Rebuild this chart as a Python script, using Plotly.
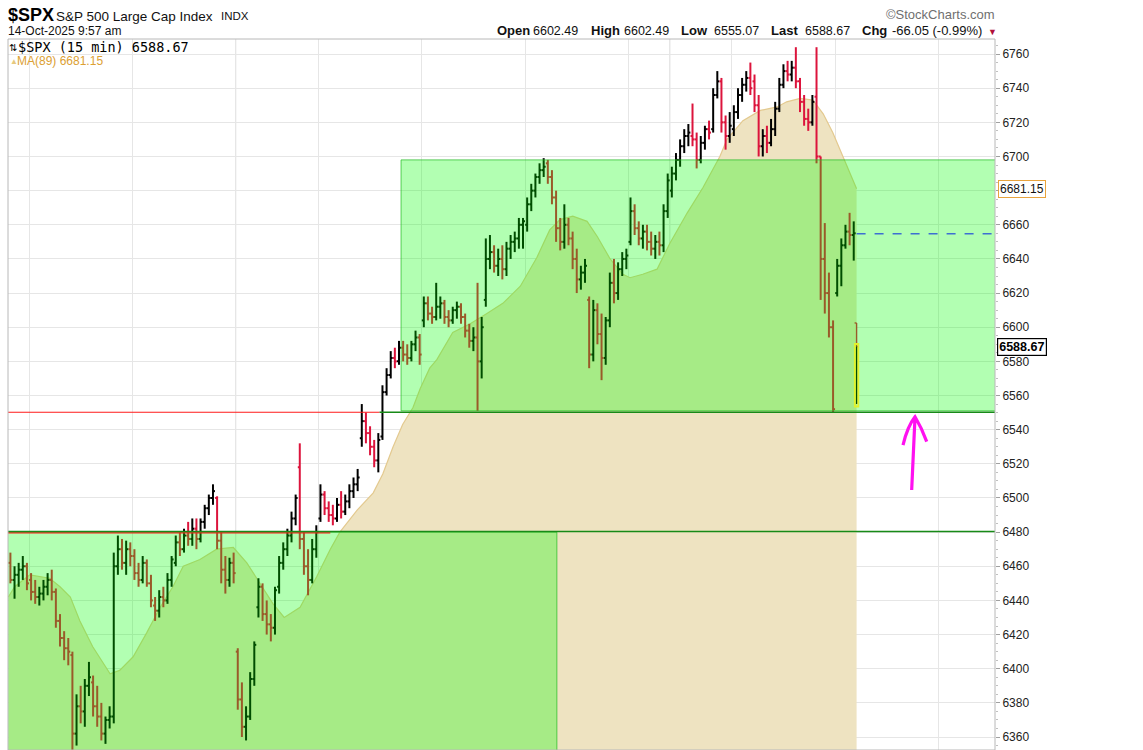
import plotly.graph_objects as go

# ---------------------------------------------------------------- data
SLOTS_PER_DAY = 26      # 15-minute slots per session (x axis unit = one 15-min slot)
BARS_PER_DAY = 5        # bars read per session from the reference

# sessions 15-Aug-2025 ... 13-Oct-2025, 5 bars each
opens = [
    6462, 6452, 6455, 6458, 6460,  6452, 6445, 6442, 6444, 6448,  6452, 6445, 6428, 6418, 6412,
    6408, 6362, 6378, 6375, 6390,  6392, 6378, 6372, 6362, 6370,  6372, 6460, 6470, 6462, 6470,
    6466, 6456, 6452, 6462, 6450,  6437, 6434, 6442, 6440, 6452,  6462, 6474, 6470, 6478, 6476,
    6482, 6476, 6486, 6494, 6500,  6500, 6475, 6458, 6452, 6462,  6410, 6382, 6366, 6372, 6394,
    6436, 6448, 6432, 6426, 6424,  6448, 6462, 6470, 6478, 6488,  6518, 6476, 6460, 6452, 6470,
    6488, 6502, 6494, 6490, 6488,  6496, 6492, 6498, 6504, 6508,  6535, 6545, 6538, 6530, 6522,
    6536, 6562, 6572, 6582, 6580,  6588, 6584, 6582, 6590, 6594,  6604, 6614, 6608, 6606, 6612,
    6614, 6606, 6604, 6610, 6612,  6606, 6598, 6592, 6594, 6580,  6616, 6640, 6644, 6636, 6640,
    6634, 6646, 6650, 6652, 6660,  6660, 6672, 6680, 6688, 6692,  6696, 6688, 6676, 6658, 6650,
    6660, 6652, 6640, 6628, 6632,  6616, 6584, 6610, 6596, 6582,  6604, 6626, 6620, 6634, 6640,
    6650, 6668, 6658, 6652, 6656,  6650, 6646, 6650, 6648, 6668,  6680, 6690, 6698, 6706, 6712,
    6712, 6710, 6698, 6708, 6716,  6716, 6736, 6744, 6720, 6712,  6716, 6726, 6736, 6742, 6746,
    6744, 6730, 6706, 6712, 6708,  6716, 6728, 6742, 6750, 6748,  6752, 6744, 6732, 6722, 6720,
    6735, 6700, 6640, 6620, 6600,  6620, 6636, 6648, 6656, 6654,
]
highs = [
    6468, 6460, 6462, 6466, 6462,  6456, 6452, 6448, 6452, 6456,  6458, 6447, 6432, 6422, 6418,
    6410, 6385, 6390, 6394, 6404,  6396, 6390, 6380, 6372, 6378,  6468, 6478, 6476, 6475, 6474,
    6470, 6462, 6466, 6464, 6455,  6442, 6446, 6448, 6456, 6466,  6478, 6480, 6482, 6486, 6488,
    6488, 6488, 6496, 6502, 6508,  6501, 6480, 6466, 6465, 6468,  6412, 6392, 6378, 6398, 6416,
    6453, 6450, 6440, 6432, 6448,  6466, 6474, 6482, 6492, 6502,  6532, 6480, 6470, 6476, 6484,
    6508, 6504, 6498, 6496, 6500,  6504, 6502, 6508, 6512, 6517,  6555, 6550, 6542, 6534, 6538,
    6566, 6576, 6586, 6588, 6592,  6592, 6590, 6592, 6598, 6596,  6618, 6618, 6612, 6626, 6618,
    6616, 6610, 6612, 6615, 6614,  6608, 6602, 6600, 6626, 6606,  6652, 6654, 6648, 6646, 6648,
    6650, 6654, 6656, 6664, 6664,  6676, 6684, 6690, 6696, 6699,  6698, 6692, 6680, 6664, 6672,
    6664, 6656, 6646, 6636, 6640,  6618, 6616, 6614, 6608, 6606,  6632, 6640, 6638, 6644, 6646,
    6676, 6672, 6662, 6660, 6660,  6656, 6654, 6656, 6672, 6690,  6694, 6702, 6710, 6716, 6719,
    6731, 6714, 6712, 6718, 6721,  6740, 6750, 6746, 6724, 6726,  6730, 6740, 6746, 6750, 6755,
    6748, 6736, 6716, 6718, 6722,  6732, 6746, 6754, 6756, 6756,  6764, 6746, 6736, 6728, 6736,
    6764, 6700, 6661, 6632, 6604,  6640, 6652, 6660, 6667, 6662,
]
lows = [
    6450, 6441, 6448, 6452, 6446,  6440, 6438, 6437, 6440, 6443,  6440, 6424, 6413, 6405, 6402,
    6345, 6355, 6368, 6366, 6384,  6372, 6366, 6358, 6356, 6365,  6368, 6455, 6458, 6455, 6460,
    6452, 6448, 6450, 6448, 6436,  6428, 6430, 6436, 6438, 6448,  6460, 6466, 6468, 6472, 6472,
    6470, 6474, 6482, 6490, 6496,  6470, 6450, 6444, 6448, 6450,  6376, 6360, 6358, 6370, 6390,
    6430, 6428, 6420, 6416, 6420,  6444, 6458, 6466, 6474, 6484,  6470, 6455, 6443, 6450, 6465,
    6486, 6490, 6486, 6484, 6486,  6488, 6490, 6494, 6500, 6504,  6530, 6532, 6525, 6518, 6515,
    6534, 6560, 6570, 6576, 6578,  6580, 6578, 6580, 6586, 6578,  6600, 6604, 6602, 6604, 6605,
    6602, 6600, 6602, 6605, 6602,  6594, 6588, 6586, 6551, 6570,  6612, 6634, 6632, 6630, 6628,
    6630, 6640, 6644, 6646, 6646,  6656, 6668, 6676, 6684, 6688,  6684, 6672, 6650, 6645, 6646,
    6648, 6634, 6620, 6622, 6626,  6576, 6580, 6590, 6569, 6578,  6600, 6614, 6616, 6630, 6634,
    6648, 6654, 6648, 6646, 6645,  6642, 6640, 6642, 6644, 6664,  6676, 6686, 6694, 6702, 6706,
    6706, 6693, 6696, 6704, 6710,  6714, 6734, 6714, 6704, 6708,  6712, 6722, 6732, 6738, 6736,
    6726, 6700, 6700, 6702, 6706,  6712, 6726, 6740, 6744, 6744,  6740, 6726, 6718, 6715, 6718,
    6696, 6616, 6608, 6594, 6550,  6618, 6624, 6646, 6648, 6639,
]
closes = [
    6452, 6455, 6458, 6460, 6450,  6445, 6442, 6444, 6448, 6452,  6445, 6428, 6418, 6412, 6410,
    6362, 6378, 6375, 6390, 6395,  6378, 6372, 6362, 6370, 6372,  6460, 6470, 6462, 6470, 6466,
    6456, 6452, 6462, 6450, 6440,  6434, 6442, 6440, 6452, 6464,  6474, 6470, 6478, 6476, 6482,
    6476, 6486, 6494, 6500, 6504,  6475, 6458, 6452, 6462, 6456,  6382, 6366, 6372, 6394, 6414,
    6448, 6432, 6426, 6424, 6446,  6462, 6470, 6478, 6488, 6500,  6476, 6460, 6452, 6470, 6480,
    6502, 6494, 6490, 6488, 6496,  6492, 6498, 6504, 6508, 6512,  6545, 6538, 6530, 6522, 6534,
    6562, 6572, 6582, 6580, 6588,  6584, 6582, 6590, 6594, 6584,  6614, 6608, 6606, 6612, 6614,
    6606, 6604, 6610, 6612, 6606,  6598, 6592, 6594, 6580, 6600,  6640, 6644, 6636, 6640, 6634,
    6646, 6650, 6652, 6660, 6662,  6672, 6680, 6688, 6692, 6694,  6688, 6676, 6658, 6650, 6660,
    6652, 6640, 6628, 6632, 6636,  6584, 6610, 6596, 6582, 6604,  6626, 6620, 6634, 6640, 6642,
    6668, 6658, 6652, 6656, 6650,  6646, 6650, 6648, 6668, 6686,  6690, 6698, 6706, 6712, 6714,
    6710, 6698, 6708, 6716, 6714,  6736, 6744, 6720, 6712, 6718,  6726, 6736, 6742, 6746, 6740,
    6730, 6706, 6712, 6708, 6716,  6728, 6742, 6750, 6748, 6752,  6744, 6732, 6722, 6720, 6732,
    6700, 6640, 6620, 6600, 6552,  6636, 6648, 6656, 6654, 6655,
]

# current bar, 14-Oct-2025 9:57 am
last_slot = 1067
last_open, last_high, last_low, last_close = 6602.49, 6602.49, 6555.07, 6588.67
prev_close = 6654.72
change, change_pct = -66.05, -0.99

# MA(89) (slot index -> value)
ma_slots = [0, 8, 27, 52, 65, 78, 90, 106, 128, 140, 157, 174, 191, 207, 220, 241, 262, 283, 300, 317,
            333, 347, 367, 388, 405, 417, 439, 459, 471, 484, 496, 509, 518, 530, 539, 559, 581, 602, 622, 644,
            665, 681, 694, 710, 728, 741, 757, 773, 782, 798, 816, 832, 854, 874, 895, 904, 924, 946, 967, 979,
            996, 1012, 1025, 1037, 1050, 1062, 1067]
ma_vals = [6442, 6448, 6455, 6453, 6448, 6442, 6428, 6413, 6397, 6399, 6407, 6421, 6436, 6448, 6460, 6464, 6470, 6471, 6462, 6450,
           6438, 6430, 6436, 6454, 6470, 6480, 6493, 6503, 6514, 6530, 6543, 6553, 6564, 6576, 6581, 6597, 6602, 6608, 6614, 6624,
           6641, 6657, 6663, 6665, 6662, 6653, 6640, 6631, 6629, 6631, 6634, 6649, 6667, 6682, 6700, 6710, 6721, 6727, 6729, 6732,
           6734, 6733, 6725, 6714, 6700, 6686, 6681.15]
ma_last = 6681.15

# week / month starts (vertical grid), slot index
week_slots = [26, 156, 286, 390, 520, 650, 780, 832, 910, 1040, 1170]
month_slots = [286, 832]
price_ticks = list(range(6360, 6761, 20))
hidden_tick = 6680      # covered by the MA value tag

# annotation zones drawn by the chartist
upper_zone = dict(x0=494, x1=1260, y0=6551, y1=6698)
lower_zone = dict(x0=-10, x1=690, y0=6300, y1=6480)
red_level_a, red_level_a_end, green_level_a_start = 6550.2, 467, 467
red_level_b, red_level_b_end, green_level_b = 6479.6, 405, 6480.4

X_RANGE = [-0.42, 1241.1]
Y_RANGE = [6352.4, 6768.8]

# ---------------------------------------------------------------- figure
W, H = 1143, 750
L, R, T, B = 8, 148, 39, 0
PW, PH = W - L - R, H - T - B


def PX(x):
    return (x - L) / PW


def PY(y):
    return (H - B - y) / PH


SANS = "Liberation Sans, Arial, sans-serif"
MONO = "DejaVu Sans Mono, monospace"
RED = "#dc143c"
TICK = 2.5          # half-width of the open/close ticks, in slots

x_bars = [SLOTS_PER_DAY * (i // BARS_PER_DAY) + (i % BARS_PER_DAY + 0.5) * SLOTS_PER_DAY / BARS_PER_DAY
          for i in range(len(closes))]


def ohlc_segments(xs, os_, hs, ls, cs):
    """Build OHLC bar glyphs (range line + open tick left + close tick right) as line segments."""
    px, py = [], []
    for x, o, h, l, c in zip(xs, os_, hs, ls, cs):
        px += [x, x, None, x - TICK, x, None, x, x + TICK, None]
        py += [l, h, None, o, o, None, c, c, None]
    return px, py


up = [i for i in range(len(closes)) if closes[i] >= opens[i]]
dn = [i for i in range(len(closes)) if closes[i] < opens[i]]

fig = go.Figure()

# MA(89) area
fig.add_trace(go.Scatter(
    x=ma_slots, y=ma_vals, mode="lines", fill="tozeroy",
    line=dict(color="#e3c98f", width=1.2), fillcolor="#eee3c1",
    hoverinfo="skip", showlegend=False))

# price bars (up = black, down = red)
for idx, col in ((up, "#000000"), (dn, RED)):
    sx, sy = ohlc_segments([x_bars[i] for i in idx], [opens[i] for i in idx], [highs[i] for i in idx],
                           [lows[i] for i in idx], [closes[i] for i in idx])
    fig.add_trace(go.Scatter(x=sx, y=sy, mode="lines", line=dict(color=col, width=2.0),
                             connectgaps=False, hoverinfo="skip", showlegend=False))

# current bar
sx, sy = ohlc_segments([last_slot], [last_open], [last_high], [last_low], [last_close])
fig.add_trace(go.Scatter(x=sx, y=sy, mode="lines", line=dict(color=RED, width=1.4),
                         hoverinfo="skip", showlegend=False))
fig.add_trace(go.Scatter(
    x=[last_slot, last_slot], y=[last_low, last_close], mode="lines",
    line=dict(color="#000000", width=1.5), showlegend=False, hoverinfo="skip"))

shapes = []
# month grid lines (a bit darker)
for s in month_slots:
    shapes.append(dict(type="line", xref="x", yref="paper", x0=s, x1=s, y0=0, y1=1,
                       line=dict(color="#d2d2d2", width=1), layer="below"))

# green zones (translucent, drawn over the bars)
shapes.append(dict(type="rect", xref="x", yref="y", **lower_zone,
                   fillcolor="rgba(0,255,0,0.30)", line=dict(color="rgba(40,190,40,0.75)", width=1),
                   layer="above"))
shapes.append(dict(type="rect", xref="x", yref="y", **upper_zone,
                   fillcolor="rgba(0,255,0,0.30)", line=dict(color="rgba(40,190,40,0.75)", width=1),
                   layer="above"))

# horizontal levels
shapes.append(dict(type="line", xref="x", yref="y", x0=X_RANGE[0], x1=red_level_a_end,
                   y0=red_level_a, y1=red_level_a, line=dict(color="#ff1a1a", width=1.2), layer="above"))
shapes.append(dict(type="line", xref="x", yref="y", x0=green_level_a_start, x1=X_RANGE[1],
                   y0=red_level_a, y1=red_level_a, line=dict(color="#178a17", width=1.4), layer="above"))
shapes.append(dict(type="line", xref="x", yref="y", x0=X_RANGE[0], x1=red_level_b_end,
                   y0=red_level_b, y1=red_level_b, line=dict(color="#ff1a1a", width=1.2), layer="above"))
shapes.append(dict(type="line", xref="x", yref="y", x0=X_RANGE[0], x1=X_RANGE[1],
                   y0=green_level_b, y1=green_level_b, line=dict(color="#178a17", width=1.4), layer="above"))

# previous close (dashed)
shapes.append(dict(type="line", xref="x", yref="y", x0=last_slot, x1=X_RANGE[1],
                   y0=prev_close, y1=prev_close, line=dict(color="#3d6fd1", width=1.4, dash="dash"),
                   layer="above"))

# highlight of the current bar
shapes.append(dict(type="rect", xref="x", yref="y", x0=last_slot - 2.2, x1=last_slot + 2.2,
                   y0=last_low - 1.5, y1=last_close + 1.5,
                   line=dict(color="#e2f22a", width=1.8), fillcolor="rgba(0,0,0,0)", layer="above"))

# hand-drawn magenta arrow
shapes.append(dict(type="path", xref="x", yref="y",
                   path="M 1136.3,6504.7 L 1140.5,6547.6 "
                        "M 1125.4,6531 Q 1131,6542 1140.5,6547.6 Q 1149,6541 1155.2,6533",
                   line=dict(color="#ff10f0", width=3.2), layer="above"))

# plot frame
shapes.append(dict(type="rect", xref="paper", yref="paper", x0=0, x1=1, y0=0, y1=1,
                   line=dict(color="#b8b8b8", width=1), layer="above"))

ann = []


def note(text, x, y, size=12, color="#111111", family=SANS, xanchor="left", yref="paper", **kw):
    ann.append(dict(text=text, x=PX(x), y=(PY(y) if yref == "paper" else y), xref="paper", yref=yref,
                    xanchor=xanchor, yanchor="middle", showarrow=False,
                    font=dict(family=family, size=size, color=color), **kw))


# header
note("<b>$SPX</b>", 6, 15, size=18, color="#000000")
note("S&P 500 Large Cap Index", 54, 16, size=13.5)
note("INDX", 219, 16, size=11.5)
note("14-Oct-2025 9:57 am", 6, 31, size=12)
note("\u00a9StockCharts.com", 997, 15, size=13, color="#6f6f6f", xanchor="right")
note("<b>Open</b>", 495, 31, size=13)
note(f"{last_open:.2f}", 531, 31, size=12.5)
note("<b>High</b>", 589, 31, size=13)
note(f"{last_high:.2f}", 622, 31, size=12.5)
note("<b>Low</b>", 679, 31, size=13)
note(f"{last_low:.2f}", 712, 31, size=12.5)
note("<b>Last</b>", 769, 31, size=13)
note(f"{last_close:.2f}", 803, 31, size=12.5)
note("<b>Chg</b>", 860, 31, size=13)
note(f"{change:.2f} ({change_pct:.2f}%)", 890, 31, size=13)
note("\u25bc", 986, 32, size=9, color="#b0103a")

# in-chart legend
note("\u21c5", 7, 47, size=10, color="#000000")
note(f"$SPX (15 min) {last_close:.2f}", 16, 47, size=13.5, family=MONO, color="#000000")
note("\u25b2", 8, 61, size=8, color="#e6c97e")
note(f"MA(89) {ma_last:.2f}", 15, 61, size=12, color="#dca033")

# right-axis value tags
note(f"{ma_last:.2f}", 998, ma_last, size=12, color="#111111", yref="y",
     bordercolor="#e8a33d", borderwidth=1, borderpad=1, bgcolor="#ffffff")
note(f"<b>{last_close:.2f}</b>", 997, last_close, size=12.5, color="#000000", yref="y",
     bordercolor="#000000", borderwidth=1.2, borderpad=1, bgcolor="#ffffff")

fig.update_layout(
    width=W, height=H, autosize=False,
    margin=dict(l=L, r=R, t=T, b=B, pad=0),
    paper_bgcolor="#ffffff", plot_bgcolor="#ffffff",
    shapes=shapes, annotations=ann, showlegend=False,
    xaxis=dict(range=X_RANGE, tickmode="array", tickvals=week_slots, showticklabels=False,
               showgrid=True, gridcolor="#e6e6e6", gridwidth=1, zeroline=False, ticks="",
               fixedrange=True),
    yaxis=dict(range=Y_RANGE, side="right", tickmode="array", tickvals=price_ticks,
               ticktext=[("" if v == hidden_tick else str(v)) for v in price_ticks],
               tickfont=dict(family=SANS, size=12, color="#222222"),
               ticks="outside", ticklen=4, tickcolor="#a0a0a0", showgrid=True, gridcolor="#e6e6e6",
               zeroline=False, showline=False, fixedrange=True,
               minor=dict(tickmode="linear", dtick=5, ticks="outside", ticklen=2, tickcolor="#c0c0c0",
                          showgrid=False)),
)

fig.write_html("out.html", config={"displayModeBar": False},
               post_script="document.body.style.margin='0px';")
